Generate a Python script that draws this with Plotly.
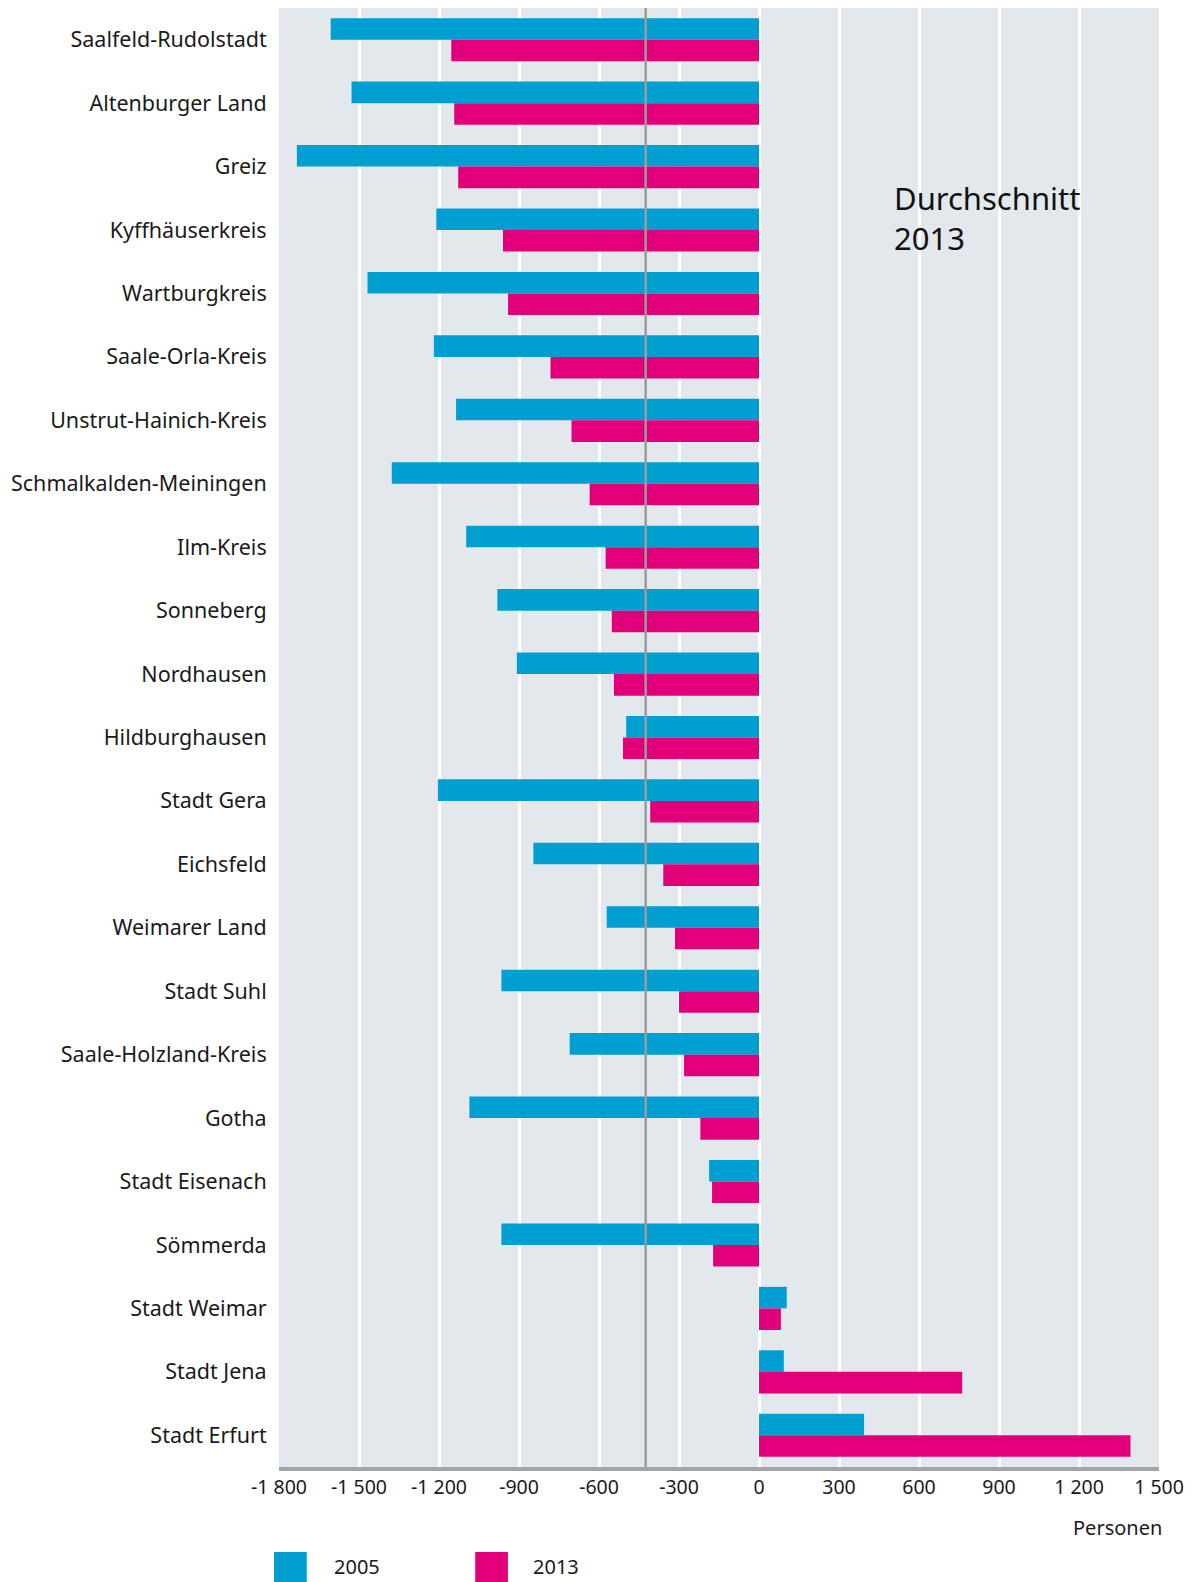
import plotly.graph_objects as go

categories = ["Saalfeld-Rudolstadt", "Altenburger Land", "Greiz", "Kyffhäuserkreis",
              "Wartburgkreis", "Saale-Orla-Kreis", "Unstrut-Hainich-Kreis",
              "Schmalkalden-Meiningen", "Ilm-Kreis", "Sonneberg", "Nordhausen",
              "Hildburghausen", "Stadt Gera", "Eichsfeld", "Weimarer Land", "Stadt Suhl",
              "Saale-Holzland-Kreis", "Gotha", "Stadt Eisenach", "Sömmerda",
              "Stadt Weimar", "Stadt Jena", "Stadt Erfurt"]
values_2005 = [-1606, -1528, -1733, -1210, -1468, -1219, -1136, -1377, -1098, -981,
               -908, -498, -1204, -846, -571, -966, -710, -1086, -187, -966,
               104, 93, 394]
values_2013 = [-1154, -1143, -1128, -960, -941, -782, -703, -635, -575, -552,
               -544, -510, -408, -359, -315, -300, -281, -220, -176, -172,
               82, 762, 1393]
average_2013 = -425
tick_vals = [-1800, -1500, -1200, -900, -600, -300, 0, 300, 600, 900, 1200, 1500]
tick_text = ["-1 800", "-1 500", "-1 200", "-900", "-600", "-300", "0", "300", "600",
             "900", "1 200", "1 500"]

BLUE = "#009fd1"
PINK = "#e2007a"
FONT = "Noto Sans"
TXT = "#1a1a1a"

W, H = 1192, 1582
L, R, T, B = 279, 25, 8, 115
pw, ph = W - L - R, H - T - B


def px(x):
    return (x - L) / pw


def py(y):
    return (H - B - y) / ph


fig = go.Figure()
fig.add_trace(go.Bar(y=categories, x=values_2005, orientation="h", name="2005",
                     marker=dict(color=BLUE, line=dict(width=0))))
fig.add_trace(go.Bar(y=categories, x=values_2013, orientation="h", name="2013",
                     marker=dict(color=PINK, line=dict(width=0))))

fig.add_shape(type="line", xref="x", yref="paper", x0=average_2013, x1=average_2013,
              y0=0, y1=1, line=dict(color="#9a9c9e", width=2.5), layer="above")

# legend (manual)
for x0, x1, col in [(274, 307, BLUE), (477, 510, PINK)]:
    fig.add_shape(type="rect", xref="paper", yref="paper", x0=px(x0), x1=px(x1),
                  y0=py(1582), y1=py(1552), fillcolor=col, line=dict(width=0))
for xl, txt in [(332, "2005"), (533, "2013")]:
    fig.add_annotation(xref="paper", yref="paper", x=px(xl), y=py(1566), text=txt,
                       showarrow=False, xanchor="left", yanchor="middle",
                       font=dict(family=FONT, size=20, color=TXT))

fig.add_annotation(xref="paper", yref="paper", x=px(1172), y=py(1527), text="Personen",
                   showarrow=False, xanchor="right", yanchor="middle",
                   font=dict(family=FONT, size=20, color=TXT))

fig.add_annotation(xref="paper", yref="paper", x=px(898), y=py(218.5),
                   text="Durchschnitt<br>2013", showarrow=False, xanchor="left",
                   yanchor="middle", align="left",
                   font=dict(family=FONT, size=31, color="#111111"))

fig.update_layout(
    width=W, height=H,
    margin=dict(l=L, r=R, t=T, b=B, pad=0),
    barmode="group", bargap=0.32, bargroupgap=0,
    plot_bgcolor="#e3e8ec", paper_bgcolor="white",
    showlegend=False,
    font=dict(family=FONT, color=TXT),
)
fig.update_xaxes(range=[-1800, 1500], tickvals=tick_vals, ticktext=tick_text,
                 showgrid=True, gridcolor="white", gridwidth=3, zeroline=False,
                 showline=True, linecolor="#a3a5a8", linewidth=4,
                 ticks="", ticklabeloverflow="allow",
                 tickfont=dict(family=FONT, size=19.5, color=TXT))
fig.update_yaxes(autorange="reversed", showgrid=False, zeroline=False,
                 ticks="outside", ticklen=7, tickcolor="rgba(0,0,0,0)",
                 tickfont=dict(family=FONT, size=21.5, color=TXT))

fig.write_html("out.html", config={"displayModeBar": False},
               post_script="document.body.style.margin='0';")
